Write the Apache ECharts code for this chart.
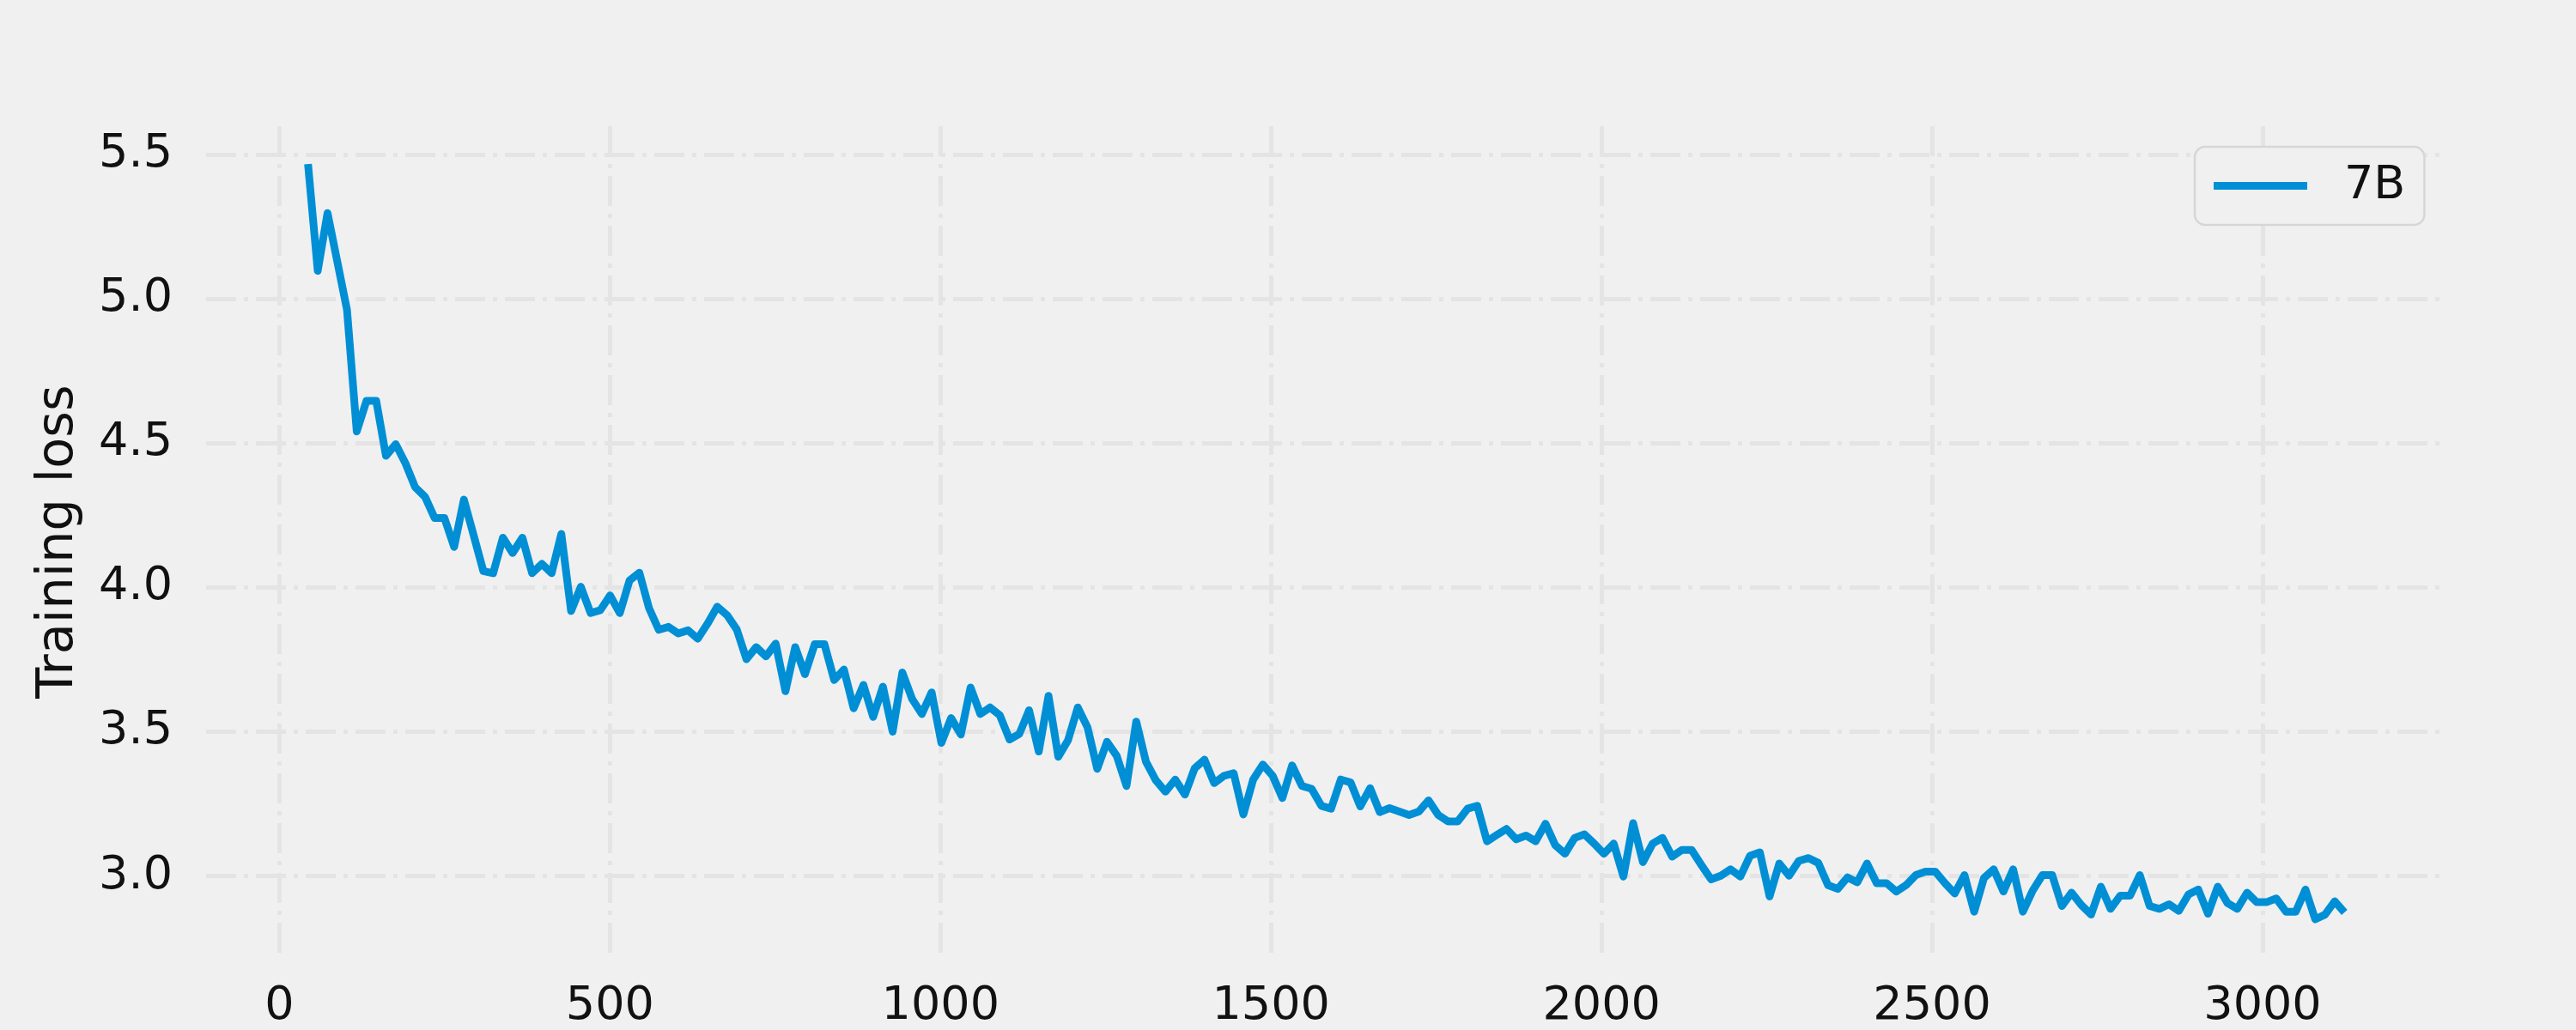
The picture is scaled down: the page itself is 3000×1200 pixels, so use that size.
<!DOCTYPE html>
<html><head><meta charset="utf-8">
<script src="https://cdn.jsdelivr.net/npm/echarts@6/dist/echarts.min.js"></script>
<style>html,body{margin:0;padding:0;background:#f0f0f0}#c{width:3000px;height:1200px}</style>
</head><body><div id="c"></div>
<script>
// ---- data ----
const seriesName = '7B';
const firstStep = 43.2;      // step of the first logged point
const logInterval = 14.74;   // steps between logged points
const loss = [
  5.467, 5.097, 5.297, 5.130, 4.961, 4.540, 4.646, 4.646, 4.456, 4.496, 4.430, 4.347,
  4.314, 4.240, 4.240, 4.140, 4.304, 4.180, 4.056, 4.049, 4.172, 4.119, 4.172, 4.049, 4.081, 4.049,
  4.185, 3.918, 4.002, 3.911, 3.921, 3.972, 3.911, 4.024, 4.051, 3.928, 3.853, 3.863,
  3.840, 3.851, 3.822, 3.874, 3.933, 3.904, 3.854, 3.751, 3.793, 3.761, 3.805, 3.640, 3.793,
  3.699, 3.803, 3.803, 3.679, 3.715, 3.581, 3.662, 3.551, 3.656, 3.500, 3.705, 3.613, 3.561,
  3.636, 3.461, 3.547, 3.490, 3.653, 3.561, 3.584, 3.557, 3.473, 3.492, 3.574,
  3.431, 3.624, 3.413, 3.470, 3.584, 3.515, 3.371, 3.465, 3.416, 3.312, 3.535, 3.396, 3.332,
  3.292, 3.334, 3.282, 3.373, 3.403, 3.322, 3.347, 3.356, 3.213, 3.334, 3.386, 3.347, 3.270,
  3.383, 3.312, 3.302, 3.243, 3.233, 3.334, 3.324, 3.241, 3.304, 3.221, 3.235, 3.223, 3.211, 3.223,
  3.262, 3.211, 3.189, 3.189, 3.233, 3.243, 3.120, 3.142, 3.163, 3.127, 3.140, 3.120, 3.181,
  3.107, 3.077, 3.132, 3.144, 3.112, 3.077, 3.112, 2.998, 3.183, 3.048, 3.112, 3.132, 3.067,
  3.090, 3.090, 3.038, 2.988, 3.001, 3.023, 2.998, 3.070, 3.082, 2.929, 3.043, 3.001, 3.052,
  3.062, 3.045, 2.968, 2.955, 2.995, 2.978, 3.043, 2.975, 2.975, 2.946, 2.968, 3.003, 3.015,
  3.015, 2.975, 2.939, 3.003, 2.876, 2.993, 3.023, 2.946, 3.023, 2.876, 2.949, 3.003, 3.003,
  2.896, 2.942, 2.899, 2.866, 2.963, 2.886, 2.932, 2.932, 3.003, 2.896, 2.886, 2.902, 2.879, 2.936,
  2.953, 2.869, 2.963, 2.906, 2.886, 2.942, 2.909, 2.909, 2.922, 2.876, 2.876, 2.953, 2.850,
  2.866, 2.912, 2.874
];
const xTicks = [0, 500, 1000, 1500, 2000, 2500, 3000];
const yTicks = [3.0, 3.5, 4.0, 4.5, 5.0, 5.5];
const yAxisName = 'Training loss';

// ---- chart ----
const steps = loss.map((_, i) => +(firstStep + i * logInterval).toFixed(1));
const points = steps.map((s, i) => [s, loss[i]]);

const FONT = 'DejaVu Sans';
const TICK_FS = 54;
const gridStyle = { color: '#e4e4e4', width: 5, type: [35, 9, 5, 9] };

const chart = echarts.init(document.getElementById('c'), null, { renderer: 'canvas' });
chart.setOption({
  backgroundColor: '#f0f0f0',
  animation: false,
  grid: { left: 240, right: 151, top: 147, bottom: 83.4, containLabel: false },
  xAxis: {
    type: 'value', min: -111, max: 3278,
    axisLine: { show: false },
    axisTick: { show: false, customValues: xTicks },
    axisLabel: { customValues: xTicks, margin: 31, fontSize: TICK_FS, fontFamily: FONT, color: '#111',
                 formatter: v => String(v) },
    splitLine: { show: true, lineStyle: gridStyle }
  },
  yAxis: {
    type: 'value', min: 2.719, max: 5.598,
    name: yAxisName, nameLocation: 'middle', nameGap: 142, nameRotate: 90,
    nameTextStyle: { fontSize: 59, fontFamily: FONT, color: '#111' },
    axisLine: { show: false },
    axisTick: { show: false, customValues: yTicks },
    axisLabel: { customValues: yTicks, margin: 39, fontSize: TICK_FS, fontFamily: FONT, color: '#111',
                 formatter: v => v.toFixed(1) },
    splitLine: { show: true, lineStyle: gridStyle }
  },
  legend: {
    left: 2556, top: 171,
    padding: [18.5, 22, 18.5, 22],
    backgroundColor: '#f0f0f0', borderColor: '#d6d6d6', borderWidth: 2.5, borderRadius: 12,
    icon: 'rect', itemWidth: 109, itemHeight: 9,
    formatter: '{t|{name}}',
    textStyle: { rich: { t: { fontSize: TICK_FS, fontFamily: FONT, color: '#111', lineHeight: 58, padding: [0, 0, 0, 38] } } },
    data: [seriesName]
  },
  series: [{
    name: seriesName, type: 'line', data: points,
    showSymbol: false, symbol: 'none',
    lineStyle: { color: '#008fd5', width: 9, join: 'round', cap: 'butt' },
    itemStyle: { color: '#008fd5' }
  }]
});
</script></body></html>
